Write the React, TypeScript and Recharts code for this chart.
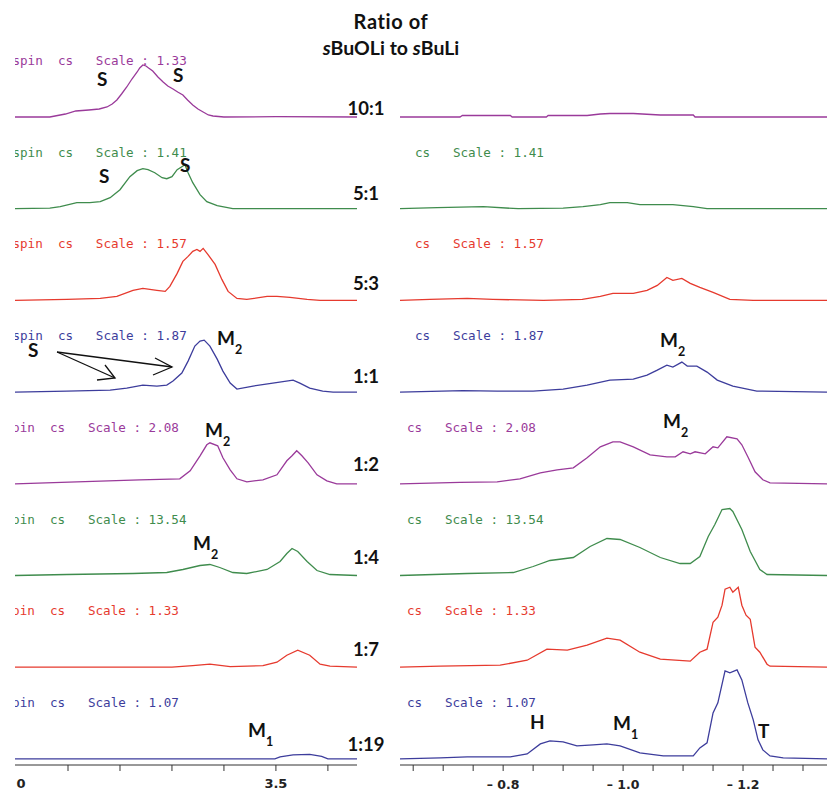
import React from 'react';
import { LineChart, Line, XAxis, YAxis } from 'recharts';

// ---------- data ----------
const RATIOS = ['10:1', '5:1', '5:3', '1:1', '1:2', '1:4', '1:7', '1:19'];
const SCALES = ['1.33', '1.41', '1.57', '1.87', '2.08', '13.54', '1.33', '1.07'];
const LEFT_TICKS = [4.0, 3.9, 3.8, 3.7, 3.6, 3.5, 3.4];
const LEFT_TICK_LABELS: Record<string, string> = { '4': '0', '3.5': '3.5' };
const RIGHT_TICKS = [-0.65, -0.7, -0.75, -0.8, -0.85, -0.9, -0.95, -1.0, -1.05, -1.1, -1.15, -1.2, -1.25, -1.3];
const RIGHT_TICK_LABELS: Record<string, string> = { '-0.8': '– 0.8', '-1': '– 1.0', '-1.2': '– 1.2' };

// left window (ppm, intensity)
const L_10_1 = [[4.002,0],[3.935,0],[3.925,1],[3.905,3],[3.885,6],[3.86,7],[3.84,8],[3.825,10],[3.815,13],[3.806,17],[3.797,23],[3.787,30],[3.777,38],[3.767,45],[3.762,49],[3.756,52],[3.75,51],[3.745,49],[3.737,46],[3.727,40],[3.717,35],[3.708,31],[3.698,28],[3.689,25],[3.679,22],[3.67,17],[3.66,12],[3.65,8],[3.64,5],[3.63,2],[3.621,1],[3.6,0],[3.5,0.3],[3.344,0]];
const L_5_1 = [[4.002,0],[3.935,0.5],[3.915,2],[3.883,6],[3.858,6],[3.838,7],[3.819,11],[3.8,19],[3.781,32],[3.767,38],[3.756,40],[3.746,39],[3.733,36],[3.719,31],[3.71,30],[3.7,32],[3.69,39],[3.681,42],[3.675,44],[3.669,36],[3.66,26],[3.646,14],[3.633,7],[3.613,3],[3.583,0],[3.344,0]];
const L_5_3 = [[4.002,0],[3.902,1],[3.838,2],[3.806,4],[3.775,10],[3.756,12],[3.729,10],[3.713,9],[3.704,14],[3.69,27],[3.679,39],[3.669,44],[3.66,49],[3.652,51],[3.646,49],[3.64,52],[3.631,46],[3.617,36],[3.604,21],[3.592,9],[3.575,2],[3.556,1],[3.517,4],[3.498,4],[3.473,3],[3.44,1],[3.415,0],[3.344,0]];
const L_1_1 = [[4.002,0],[3.902,1],[3.819,2],[3.787,4],[3.756,7],[3.729,6],[3.71,7],[3.698,11],[3.681,19],[3.669,31],[3.656,46],[3.646,51],[3.638,52],[3.627,46],[3.613,33],[3.602,21],[3.588,9],[3.575,3],[3.544,6],[3.506,9],[3.467,12],[3.454,9],[3.435,4],[3.41,1],[3.39,0],[3.344,0]];
const L_1_2 = [[4.002,0],[3.883,2],[3.762,4],[3.685,5],[3.665,13],[3.646,28],[3.633,39],[3.627,41],[3.612,38],[3.602,26],[3.588,14],[3.575,5],[3.556,2],[3.525,4],[3.498,9],[3.479,23],[3.469,28],[3.46,33],[3.45,28],[3.438,21],[3.421,9],[3.402,3],[3.383,0],[3.344,0]];
const L_1_4 = [[4.002,0],[3.902,1],[3.775,2],[3.71,3],[3.679,6],[3.646,10],[3.627,11],[3.608,8],[3.583,3],[3.556,2],[3.517,6],[3.492,14],[3.479,22],[3.469,27],[3.458,24],[3.44,14],[3.421,5],[3.396,1],[3.344,0]];
const L_1_7 = [[4.002,0],[3.7,0],[3.66,1.5],[3.627,3],[3.588,0.5],[3.525,1.5],[3.498,5],[3.479,12],[3.458,17],[3.435,12],[3.415,3],[3.396,1],[3.344,0]];
const L_1_19 = [[4.002,0],[3.502,0],[3.492,2],[3.467,4],[3.435,4.5],[3.412,2.5],[3.4,0],[3.344,0]];

// right window (ppm, intensity)
const R_10_1 = [[-0.628,0],[-0.728,0],[-0.732,1.5],[-0.812,1.5],[-0.815,0],[-0.872,0],[-0.875,1.5],[-0.94,1.5],[-0.962,3],[-0.978,3.5],[-1.017,3.5],[-1.062,2],[-1.117,2],[-1.12,0],[-1.34,0]];
const R_5_1 = [[-0.628,0],[-0.69,1],[-0.767,2],[-0.825,0],[-0.9,0.5],[-0.933,2],[-0.962,4],[-0.978,6],[-1.007,6],[-1.028,4],[-1.057,4],[-1.083,4],[-1.117,2],[-1.14,0],[-1.34,0]];
const R_5_3 = [[-0.628,0],[-0.678,1],[-0.74,2],[-0.783,1],[-0.867,0],[-0.932,1],[-0.962,4],[-0.983,7],[-1.017,7],[-1.04,10],[-1.057,15],[-1.073,23],[-1.083,20],[-1.098,22],[-1.112,17],[-1.128,13],[-1.15,8],[-1.178,1],[-1.217,0],[-1.34,0]];
const R_1_1 = [[-0.628,0],[-0.733,1.5],[-0.79,1],[-0.85,1],[-0.9,3],[-0.94,7],[-0.978,12],[-1.017,13],[-1.04,17],[-1.057,22],[-1.073,27],[-1.083,25],[-1.098,30],[-1.107,26],[-1.123,26],[-1.14,20],[-1.157,12],[-1.183,6],[-1.223,1],[-1.34,0]];
const R_1_2 = [[-0.628,0],[-0.728,1.5],[-0.79,2],[-0.828,5],[-0.862,11],[-0.89,14],[-0.917,16],[-0.94,26],[-0.962,37],[-0.983,42],[-0.995,42],[-1.017,37],[-1.045,29],[-1.073,27],[-1.087,27],[-1.1,32],[-1.112,30],[-1.12,32],[-1.137,30],[-1.15,37],[-1.158,36],[-1.173,47],[-1.19,45],[-1.198,39],[-1.208,27],[-1.22,12],[-1.233,4],[-1.245,1],[-1.34,0]];
const R_1_4 = [[-0.628,0],[-0.74,2],[-0.817,3],[-0.85,9],[-0.878,15],[-0.917,18],[-0.945,29],[-0.973,37],[-0.995,36],[-1.028,28],[-1.062,18],[-1.095,12],[-1.112,12],[-1.128,19],[-1.142,39],[-1.153,51],[-1.165,66],[-1.178,67],[-1.183,64],[-1.198,46],[-1.212,24],[-1.228,6],[-1.24,1],[-1.34,0]];
const R_1_7 = [[-0.628,0],[-0.695,1],[-0.795,2],[-0.84,7],[-0.873,18],[-0.907,17],[-0.94,22],[-0.973,29],[-0.995,27],[-1.028,15],[-1.062,8],[-1.112,6],[-1.128,15],[-1.14,18],[-1.15,45],[-1.158,50],[-1.165,62],[-1.17,78],[-1.178,80],[-1.183,75],[-1.192,80],[-1.198,62],[-1.205,52],[-1.212,48],[-1.22,20],[-1.228,15],[-1.24,3],[-1.245,1],[-1.34,0]];
const R_1_19 = [[-0.628,0],[-0.695,1],[-0.74,2],[-0.812,2],[-0.84,5],[-0.862,15],[-0.878,18],[-0.9,17],[-0.923,13],[-0.95,14],[-0.973,15],[-0.995,13],[-1.028,6],[-1.067,3],[-1.117,3],[-1.128,11],[-1.14,16],[-1.15,46],[-1.158,56],[-1.17,88],[-1.178,86],[-1.19,89],[-1.198,79],[-1.208,56],[-1.217,39],[-1.225,19],[-1.233,9],[-1.245,3],[-1.267,1],[-1.34,0]];

const LEFT_SERIES = [L_10_1, L_5_1, L_5_3, L_1_1, L_1_2, L_1_4, L_1_7, L_1_19];
const RIGHT_SERIES = [R_10_1, R_5_1, R_5_3, R_1_1, R_1_2, R_1_4, R_1_7, R_1_19];

// ---------- layout / style ----------
const W = 827;
const H = 792;
const AXIS_Y = 765;
const ROW0 = 117;
const ROW_STEP = 91.7;
const ROW_COLORS = ['#9a3a9a', '#3f8c4d', '#e63a2e', '#3d3d9c', '#9a3a9a', '#3f8c4d', '#e63a2e', '#3d3d9c'];
const baseY = (i: number) => ROW0 + i * ROW_STEP;
const offsetOf = (i: number) => AXIS_Y - baseY(i);
const BOLD = 'Lato, "Open Sans", sans-serif';
const MONO = '"DejaVu Sans Mono", monospace';

const toPoints = (arr: number[][], i: number) => arr.map(([x, v]) => ({ x, y: v + offsetOf(i) }));

const key = (v: number) => String(Math.round(v * 1000) / 1000);

const LeftTick = (props: any) => {
  const { x, payload } = props;
  const v = payload.value as number;
  const label = LEFT_TICK_LABELS[key(v)];
  const isEdge = v > 3.99;
  return (
    <g>
      {!isEdge && <line x1={x} x2={x} y1={AXIS_Y} y2={AXIS_Y + 6} stroke="#333" strokeWidth={1} />}
      {label && (
        <text x={x + (isEdge ? 5 : 0)} y={AXIS_Y + 23} textAnchor="middle" fontFamily='"DejaVu Sans", sans-serif' fontSize={13} fontWeight="bold" fill="#222">
          {label}
        </text>
      )}
    </g>
  );
};

const RightTick = (props: any) => {
  const { x, payload } = props;
  const v = payload.value as number;
  const label = RIGHT_TICK_LABELS[key(v)];
  return (
    <g>
      <line x1={x} x2={x} y1={AXIS_Y} y2={AXIS_Y + 6} stroke="#333" strokeWidth={1} />
      {label && (
        <text x={x} y={AXIS_Y + 24} textAnchor="middle" fontFamily='"DejaVu Sans", sans-serif' fontSize={12.5} fontWeight="bold" fill="#222" style={{ whiteSpace: 'pre' }}>
          {label}
        </text>
      )}
    </g>
  );
};

const Panel = ({ series, domain, ticks, tick, left, width, marginLeft, marginRight }: any) => (
  <div style={{ position: 'absolute', left, top: 0 }}>
    <LineChart width={width} height={H} margin={{ top: 0, right: marginRight, left: marginLeft, bottom: 0 }}>
      <XAxis
        dataKey="x"
        type="number"
        domain={domain}
        reversed
        allowDataOverflow
        ticks={ticks}
        interval={0}
        height={H - AXIS_Y}
        tickLine={false}
        tick={tick}
        axisLine={{ stroke: '#333', strokeWidth: 1 }}
      />
      <YAxis hide type="number" domain={[0, AXIS_Y]} allowDataOverflow />
      {series.map((arr: number[][], i: number) => (
        <Line
          key={i}
          data={toPoints(arr, i)}
          dataKey="y"
          type="linear"
          stroke={ROW_COLORS[i]}
          strokeWidth={1.3}
          dot={false}
          activeDot={false}
          isAnimationActive={false}
        />
      ))}
    </LineChart>
  </div>
);

const ANNOTS = [
  { t: 'S', x: 97, y: 86 },
  { t: 'S', x: 173, y: 82 },
  { t: 'S', x: 99, y: 183 },
  { t: 'S', x: 180, y: 172 },
  { t: 'S', x: 28, y: 357 },
  { t: 'M', s: '2', x: 217, y: 345 },
  { t: 'M', s: '2', x: 205, y: 437 },
  { t: 'M', s: '2', x: 193, y: 550 },
  { t: 'M', s: '1', x: 248, y: 737 },
  { t: 'M', s: '2', x: 660, y: 347 },
  { t: 'M', s: '2', x: 663, y: 428 },
  { t: 'H', x: 530, y: 729 },
  { t: 'M', s: '1', x: 613, y: 730 },
  { t: 'T', x: 758, y: 738 },
];
const RATIO_BASE = [115, 200, 290, 383, 471, 564, 656, 751];

export default function App() {
  return (
    <div style={{ position: 'absolute', left: 0, top: 0, width: W, height: H, background: '#fff', overflow: 'hidden' }}>
      <Panel
        series={LEFT_SERIES}
        domain={[3.344, 4.002]}
        ticks={LEFT_TICKS}
        tick={<LeftTick />}
        left={0}
        width={372}
        marginLeft={15}
        marginRight={15}
      />
      <Panel
        series={RIGHT_SERIES}
        domain={[-1.34, -0.628]}
        ticks={RIGHT_TICKS}
        tick={<RightTick />}
        left={385}
        width={442}
        marginLeft={15}
        marginRight={0}
      />
      <svg width={W} height={H} style={{ position: 'absolute', left: 0, top: 0, pointerEvents: 'none' }}>
        <defs>
          <clipPath id="leftclip">
            <rect x={15} y={0} width={380} height={H} />
          </clipPath>
        </defs>
        <text x={391} y={29} textAnchor="middle" fontFamily={BOLD} fontWeight="bold" fontSize={20} letterSpacing={0.6} fill="#111">
          Ratio of
        </text>
        <text x={391} y={55} textAnchor="middle" fontFamily={BOLD} fontWeight="bold" fontSize={19.5} fill="#111">
          <tspan fontStyle="italic">s</tspan>BuOLi to <tspan fontStyle="italic">s</tspan>BuLi
        </text>
        <g clipPath="url(#leftclip)">
          {SCALES.map((s, i) => (
            <text key={'l' + i} x={i < 4 ? 12.4 : 4.5} y={baseY(i) - 52} fontFamily={MONO} fontSize={12.6} fill={ROW_COLORS[i]} style={{ whiteSpace: 'pre' }}>
              {`spin  cs   Scale : ${s}`}
            </text>
          ))}
        </g>
        {SCALES.map((s, i) =>
          i === 0 ? null : (
            <text key={'r' + i} x={i < 4 ? 415 : 407} y={baseY(i) - 52} fontFamily={MONO} fontSize={12.6} fill={ROW_COLORS[i]} style={{ whiteSpace: 'pre' }}>
              {`cs   Scale : ${s}`}
            </text>
          )
        )}
        {RATIOS.map((r, i) => (
          <text key={r} x={366} y={RATIO_BASE[i]} textAnchor="middle" fontFamily={BOLD} fontWeight="bold" fontSize={18.5} fill="#111">
            {r}
          </text>
        ))}
        {ANNOTS.map((a, i) => (
          <text key={'a' + i} x={a.x} y={a.y} fontFamily={BOLD} fontWeight="bold" fontSize={19} fill="#111">
            {a.t}
            {a.s && (
              <tspan dy={9} fontSize={12.5}>
                {a.s}
              </tspan>
            )}
          </text>
        ))}
        <g stroke="#111" strokeWidth={1.3} fill="none">
          <line x1={57} y1={352} x2={115} y2={378} />
          <polyline points="97,380 115,378 105,365" />
          <line x1={57} y1={352} x2={172} y2={367} />
          <polyline points="155,358 172,367 153,375" />
        </g>
      </svg>
    </div>
  );
}
